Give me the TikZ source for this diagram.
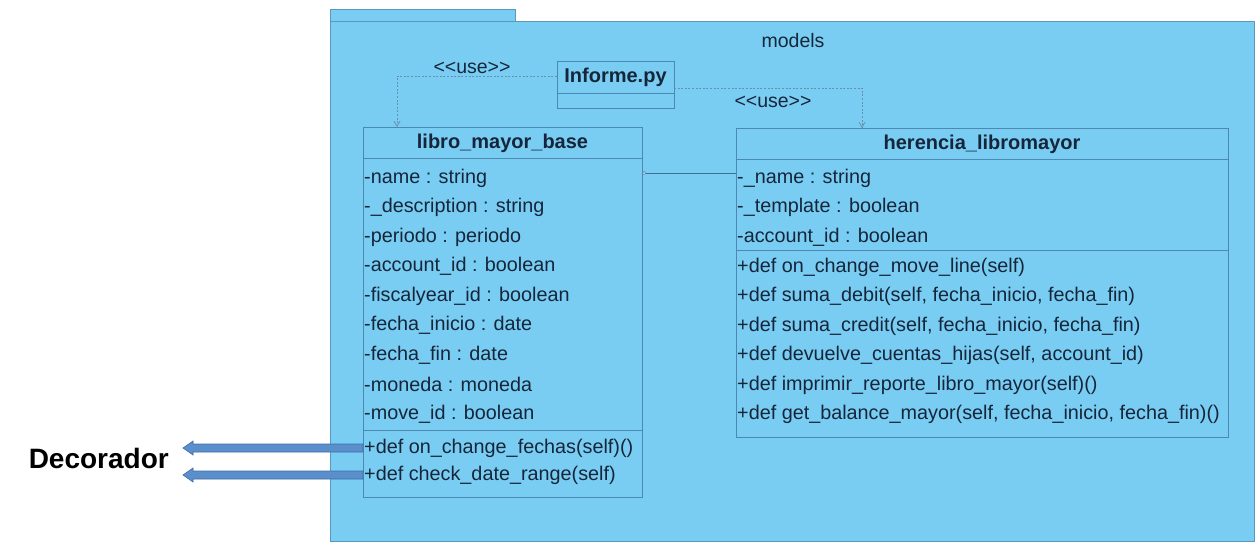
\documentclass[tikz,border=0pt]{standalone}
\usepackage{fontspec}
\setmainfont{Liberation Sans}
\usetikzlibrary{arrows.meta}
\definecolor{pkgfill}{HTML}{79CDF3}
\definecolor{pkgline}{HTML}{5A98BE}
\definecolor{boxline}{HTML}{4C88B2}
\definecolor{ink}{HTML}{16263A}
\definecolor{linkline}{HTML}{3F6F92}
\definecolor{usedot}{HTML}{6A8FAE}
\definecolor{arrfill}{HTML}{5B8FCB}
\definecolor{arredge}{HTML}{3C6FA8}
\tikzset{
  umlbox/.style={draw=boxline, line width=0.9pt, fill=pkgfill, inner sep=0pt, outer sep=0pt, anchor=north west},
  title/.style={font=\bfseries\fontsize{20}{22}\selectfont, text=ink, inner sep=0pt},
  member/.style={font=\fontsize{19.8}{22}\selectfont, text=ink, inner sep=0pt, anchor=west},
  uselabel/.style={font=\fontsize{19.5}{21}\selectfont, text=ink, inner sep=0pt},
  usedep/.style={usedot, line width=0.8pt, dash pattern=on 2pt off 1.6pt, -{Straight Barb[length=5pt,width=6pt]}},
  fatarrow/.style={draw=arredge, fill=arrfill, line width=0.6pt},
}
\newcommand{\us}{\_}
\begin{document}
\begin{tikzpicture}[x=1pt,y=-1pt]
\useasboundingbox (0,0) rectangle (1259,542);
\fill[white] (0,0) rectangle (1259,542);

% package "models"
\draw[pkgline, fill=pkgfill, line width=0.9pt] (330,9) rectangle (515,21);
\draw[pkgline, fill=pkgfill, line width=0.9pt] (330,21) rectangle (1254,541);
\node[font=\fontsize{19.5}{21}\selectfont, text=ink, inner sep=0pt] (pkgname) at (793,41) {models};

% Informe.py
\node[umlbox, minimum width=117pt, minimum height=47pt] (inf) at (557,61) {};
\draw[boxline, line width=0.9pt] (557,93) -- (674,93);
\node[title] (inftitle) at (615.5,77) {Informe.py};

% libro_mayor_base
\node[umlbox, minimum width=279pt, minimum height=370pt] (lib) at (363,127) {};
\draw[boxline, line width=0.9pt] (363,158) -- (642,158);
\draw[boxline, line width=0.9pt] (363,430) -- (642,430);
\node[title] (libtitle) at (502.5,143) {libro\us mayor\us base};
\node[member] (l1) at (364,178) {-name : string};
\node[member] (l2) at (364,207.5) {-\us description : string};
\node[member] (l3) at (364,237) {-periodo : periodo};
\node[member] (l4) at (364,266.5) {-account\us id : boolean};
\node[member] (l5) at (364,296) {-fiscalyear\us id : boolean};
\node[member] (l6) at (364,325.5) {-fecha\us inicio : date};
\node[member] (l7) at (364,355) {-fecha\us fin : date};
\node[member] (l8) at (364,384.5) {-moneda : moneda};
\node[member] (l9) at (364,414) {-move\us id : boolean};
\node[member] (lm1) at (364,448) {+def on\us change\us fechas(self)()};
\node[member] (lm2) at (364,475) {+def check\us date\us range(self)};

% herencia_libromayor
\node[umlbox, minimum width=492pt, minimum height=309pt] (her) at (736,128) {};
\draw[boxline, line width=0.9pt] (736,159) -- (1228,159);
\draw[boxline, line width=0.9pt] (736,250) -- (1228,250);
\node[title] (hertitle) at (982,144) {herencia\us libromayor};
\node[member] (h1) at (737,178) {-\us name : string};
\node[member] (h2) at (737,207.5) {-\us template : boolean};
\node[member] (h3) at (737,237) {-account\us id : boolean};
\node[member] (hm1) at (737,267) {+def on\us change\us move\us line(self)};
\node[member] (hm2) at (737,296.5) {+def suma\us debit(self, fecha\us inicio, fecha\us fin)};
\node[member] (hm3) at (737,326) {+def suma\us credit(self, fecha\us inicio, fecha\us fin)};
\node[member] (hm4) at (737,355.5) {+def devuelve\us cuentas\us hijas(self, account\us id)};
\node[member] (hm5) at (737,385) {+def imprimir\us reporte\us libro\us mayor(self)()};
\node[member] (hm6) at (737,414.5) {+def get\us balance\us mayor(self, fecha\us inicio, fecha\us fin)()};

% association between the two classes
\coordinate (assocL) at (lib.east |- 0,173);
\coordinate (assocR) at (her.west |- 0,173);
\draw[linkline, line width=0.9pt] (assocL) -- (assocR);
\draw[linkline, fill=white, line width=0.5pt] ([xshift=2pt]assocL) circle (1.6pt);

% <<use>> dependencies from Informe.py
\draw[usedep] ([yshift=8.5pt]inf.west) -| ([xshift=34pt]lib.north west);
\draw[usedep] ([yshift=-3.5pt]inf.east) -| ([xshift=126pt]her.north west);
\node[uselabel] (use1) at (472,68) {<\kern0pt<use>\kern0pt>};
\node[uselabel] (use2) at (773,102) {<\kern0pt<use>\kern0pt>};

% decorator arrows pointing from the decorated methods to the label
\node[font=\bfseries\fontsize{28}{30}\selectfont, text=black, inner sep=0pt, anchor=east] (deco) at (169,458) {Decorador};
\coordinate (dtip1) at (183,448);
\coordinate (dtip2) at (183,475);
\draw[fatarrow] (lib.west |- dtip1) ++(0,-4) -- ++(-170,0) -- ++(0,-3) -- (dtip1) -- ++(10,7) -- ++(0,-3) -- ++(170,0) -- cycle;
\draw[fatarrow] (lib.west |- dtip2) ++(0,-4) -- ++(-170,0) -- ++(0,-3) -- (dtip2) -- ++(10,7) -- ++(0,-3) -- ++(170,0) -- cycle;
\end{tikzpicture}
\end{document}
